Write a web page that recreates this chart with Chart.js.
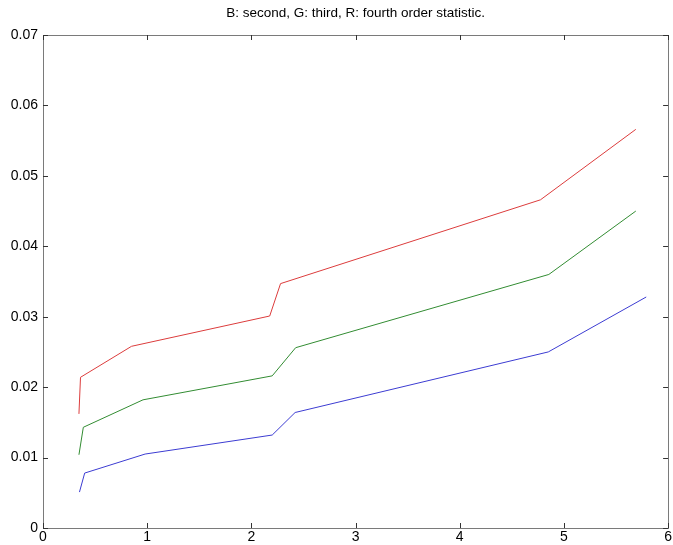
<!DOCTYPE html>
<html>
<head>
<meta charset="utf-8">
<script src="https://cdn.jsdelivr.net/npm/chart.js@4.4.1/dist/chart.umd.min.js"></script>
<style>
  html, body { margin: 0; padding: 0; background: #fff; overflow: hidden; }
  #wrap { width: 673px; height: 545px; position: relative; }
</style>
</head>
<body>
<div id="wrap"><canvas id="c"></canvas></div>
<script>
// valores
const titleText = "B: second, G: third, R: fourth order statistic.";
const xTicks = [0, 1, 2, 3, 4, 5, 6];
const yTicks = [0, 0.01, 0.02, 0.03, 0.04, 0.05, 0.06, 0.07];

const xBlue  = [0.35, 0.40, 0.98, 2.20, 2.42, 4.85, 5.79];
const yBlue  = [0.0051, 0.0078, 0.0105, 0.0132, 0.0164, 0.0250, 0.0328];
const xGreen = [0.345, 0.387, 0.96, 2.20, 2.425, 4.855, 5.69];
const yGreen = [0.0104, 0.0143, 0.0182, 0.0216, 0.0256, 0.0360, 0.0450];
const xRed   = [0.345, 0.36, 0.85, 2.176, 2.28, 4.775, 5.69];
const yRed   = [0.0162, 0.0214, 0.0258, 0.0301, 0.0347, 0.0466, 0.0566];

function pts(xs, ys){ return xs.map((x,i)=>({x, y: ys[i]})); }

const FONT_FAMILY = "'Liberation Sans', Arial, sans-serif";

// marco tipo MATLAB con ticks hacia adentro + título centrado sobre el área
const framePlugin = {
  id: "frame",
  afterDraw(chart){
    const {ctx, chartArea: a, scales} = chart;
    ctx.save();
    ctx.strokeStyle = "#7a7a7a";
    ctx.lineWidth = 1;
    ctx.strokeRect(Math.round(a.left)+0.5, Math.round(a.top)+0.5,
                   Math.round(a.right-a.left), Math.round(a.bottom-a.top));
    ctx.strokeStyle = "#333";
    const L = 5;
    ctx.beginPath();
    xTicks.forEach(v=>{
      const px = Math.round(scales.x.getPixelForValue(v))+0.5;
      ctx.moveTo(px, a.bottom); ctx.lineTo(px, a.bottom-L);
      ctx.moveTo(px, a.top);    ctx.lineTo(px, a.top+L);
    });
    yTicks.forEach(v=>{
      const py = Math.round(scales.y.getPixelForValue(v))+0.5;
      ctx.moveTo(a.left, py);  ctx.lineTo(a.left+L, py);
      ctx.moveTo(a.right, py); ctx.lineTo(a.right-L, py);
    });
    ctx.stroke();

    ctx.fillStyle = "#000";
    ctx.font = "13.5px " + FONT_FAMILY;
    ctx.textAlign = "center";
    ctx.textBaseline = "middle";
    ctx.fillText(titleText, (a.left + a.right) / 2, 13);
    ctx.restore();
  }
};

const font = { family: FONT_FAMILY, size: 14 };

new Chart(document.getElementById("c").getContext("2d"), {
  type: "line",
  data: {
    datasets: [
      { label: "R", data: pts(xRed, yRed),     borderColor: "rgb(220,60,60)" },
      { label: "G", data: pts(xGreen, yGreen), borderColor: "rgb(50,140,50)" },
      { label: "B", data: pts(xBlue, yBlue),   borderColor: "rgb(60,60,210)" }
    ]
  },
  options: {
    responsive: true,
    maintainAspectRatio: false,
    animation: false,
    elements: {
      line: { borderWidth: 1, tension: 0, fill: false },
      point: { radius: 0, hoverRadius: 0 }
    },
    layout: { padding: { right: 1, left: 0, bottom: 0, top: 35 } },
    plugins: {
      legend: { display: false },
      tooltip: { enabled: false },
      title: { display: false }
    },
    scales: {
      x: {
        type: "linear",
        min: 0, max: 6,
        afterBuildTicks: s => { s.ticks = xTicks.map(v=>({value: v})); },
        ticks: { color: "#000", font, padding: 1, maxRotation: 0, callback: v => String(v) },
        grid: { display: false, drawTicks: false },
        border: { display: false },
        afterFit: s => { s.height = 17; }
      },
      y: {
        type: "linear",
        min: 0, max: 0.07,
        afterBuildTicks: s => { s.ticks = yTicks.map(v=>({value: v})); },
        ticks: { color: "#000", font, padding: 5, callback: v => v === 0 ? "0" : v.toFixed(2) },
        grid: { display: false, drawTicks: false },
        border: { display: false },
        afterFit: s => { s.width = 43; }
      }
    }
  },
  plugins: [framePlugin]
});
</script>
</body>
</html>
